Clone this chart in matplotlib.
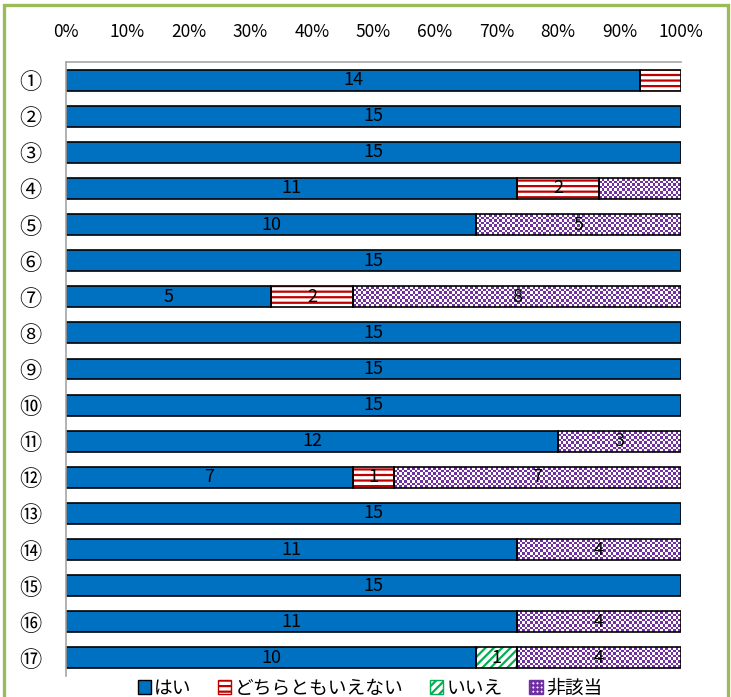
import matplotlib
matplotlib.use("Agg")
import matplotlib.pyplot as plt
import numpy as np
from matplotlib.patches import Patch, Rectangle
from matplotlib.colors import ListedColormap

plt.rcParams['font.family'] = ['Noto Sans CJK JP', 'DejaVu Sans']
plt.rcParams['hatch.linewidth'] = 1.6

# data
labels = ['①', '②', '③', '④', '⑤', '⑥', '⑦', '⑧', '⑨', '⑩',
          '⑪', '⑫', '⑬', '⑭', '⑮', '⑯', '⑰']
hai = [14, 15, 15, 11, 10, 15, 5, 15, 15, 15, 12, 7, 15, 11, 15, 11, 10]
dochira = [1, 0, 0, 2, 0, 0, 2, 0, 0, 0, 0, 1, 0, 0, 0, 0, 0]
iie = [0, 0, 0, 0, 0, 0, 0, 0, 0, 0, 0, 0, 0, 0, 0, 0, 1]
higaitou = [0, 0, 0, 2, 5, 0, 8, 0, 0, 0, 3, 7, 0, 4, 0, 4, 4]
series_names = ['はい', 'どちらともいえない', 'いいえ', '非該当']
# segments whose value label is not shown in the original
hidden_labels = [('どちらともいえない', 0), ('非該当', 3)]

BLUE = '#0070C0'
RED = '#C00000'
GREEN = '#00B050'
PURPLE = '#7030A0'

fig = plt.figure(figsize=(7.31, 6.97), dpi=100)
ax = fig.add_axes([66/731, 1 - 676/697, 615/731, 614/697])

y = np.arange(len(labels))
h = 0.58
series = [hai, dochira, iie, higaitou]
totals = np.sum(series, axis=0)
left = np.zeros(len(labels))
px_per_pct = 615 / 100.0

for name, vals in zip(series_names, series):
    pct = np.array(vals) / totals * 100
    for i in range(len(labels)):
        if vals[i] == 0:
            continue
        x0, w = left[i], pct[i]
        if name == 'はい':
            ax.barh(y[i], w, left=x0, height=h, color=BLUE,
                    edgecolor='black', linewidth=1.2, zorder=2)
        elif name == 'どちらともいえない':
            ax.barh(y[i], w, left=x0, height=h, color='white',
                    edgecolor=RED, hatch='---', linewidth=0, zorder=1)
        elif name == 'いいえ':
            ax.barh(y[i], w, left=x0, height=h, color='white',
                    edgecolor=GREEN, hatch='////', linewidth=0, zorder=1)
        else:
            bars = ax.barh(y[i], w, left=x0, height=h, color='white',
                           edgecolor='none', zorder=1)
            ncols = max(2, int(round(w * px_per_pct / 2.6)))
            nrows = 8
            chk = (np.indices((nrows, ncols)).sum(axis=0) % 2)
            im = ax.imshow(chk, cmap=ListedColormap(['white', PURPLE]),
                           extent=(x0, x0 + w, y[i] + h/2, y[i] - h/2),
                           aspect='auto', interpolation='nearest', zorder=1.5)
            im.set_clip_path(bars.patches[0])
        if name != 'はい':
            ax.barh(y[i], w, left=x0, height=h, color='none',
                    edgecolor='black', linewidth=1.2, zorder=2)
        if (name, i) not in hidden_labels:
            ax.text(x0 + w/2, y[i], str(vals[i]), ha='center', va='center',
                    fontsize=13, color='black', zorder=3)
    left += pct

ax.set_xlim(0, 100)
ax.set_ylim(len(labels) - 0.5, -0.5)
ax.xaxis.tick_top()
ax.set_xticks(np.arange(0, 101, 10))
ax.set_xticklabels([f'{v}%' for v in range(0, 101, 10)], fontsize=12.5)
ax.set_yticks(y)
ax.set_yticklabels(labels, fontsize=16)
ax.tick_params(axis='x', length=0, pad=15)
ax.tick_params(axis='y', length=0, pad=18)
for s in ['right', 'bottom']:
    ax.spines[s].set_visible(False)
for s in ['left', 'top']:
    ax.spines[s].set_color('#A6A6A6')
    ax.spines[s].set_linewidth(1.2)

handles = [
    Patch(facecolor=BLUE, edgecolor='black'),
    Patch(facecolor='white', edgecolor=RED, hatch='---'),
    Patch(facecolor='white', edgecolor=GREEN, hatch='////'),
    Patch(facecolor='white', edgecolor=PURPLE, hatch='++++'),
]
fig.legend(handles, series_names, loc='center', ncol=4,
           bbox_to_anchor=(370/731, 1 - 688/697), frameon=False,
           fontsize=13.5, handlelength=0.7, handleheight=0.7,
           handletextpad=0.2, columnspacing=1.4)

fig.add_artist(Rectangle((4/731, -0.1), 724/731, 0.1 + 1 - 5/697,
                         transform=fig.transFigure, fill=False,
                         edgecolor='#9BBB59', linewidth=2.4))

fig.savefig('out.png', dpi=100, facecolor='white')
